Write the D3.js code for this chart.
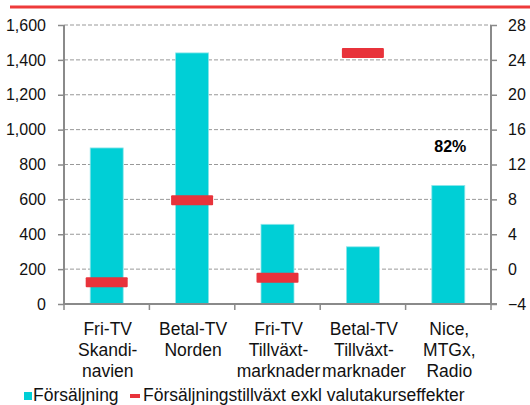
<!DOCTYPE html>
<html>
<head>
<meta charset="utf-8">
<script src="https://cdn.jsdelivr.net/npm/d3@7"></script>
<style>
  body { margin: 0; background: #fff; }
  svg { display: block; font-family: "Liberation Sans", Arial, sans-serif; }
</style>
</head>
<body>
<svg id="chart" width="530" height="405"></svg>
<script>
// chart data
var categories = ['Fri-TV Skandinavien', 'Betal-TV Norden', 'Fri-TV Tillväxtmarknader', 'Betal-TV Tillväxtmarknader', 'Nice, MTGx, Radio'];
var labelLines = [
    ['Fri-TV', 'Skandi-', 'navien'],
    ['Betal-TV', 'Norden'],
    ['Fri-TV', 'Tillväxt-', 'marknader'],
    ['Betal-TV', 'Tillväxt-', 'marknader'],
    ['Nice,', 'MTGx,', 'Radio']
];
var sales = [895, 1440, 457, 328, 680];
var growth = [-1.5, 7.9, -1.0, 24.8, null];
var noteText = '82%';      // growth for Nice, MTGx, Radio (off scale)
var noteValue = 14;        // where the note sits on the right axis
var leftTicks = [0, 200, 400, 600, 800, 1000, 1200, 1400, 1600];
var rightTicks = [-4, 0, 4, 8, 12, 16, 20, 24, 28];
var legendNames = ['Försäljning', 'Försäljningstillväxt exkl valutakurseffekter'];

var cyan = '#00cfd6';
var red = '#e8333b';
var grey = '#8a8a8a';

var svg = d3.select('#chart');

var plotL = 64, plotR = 491, plotT = 25, plotB = 304;

var x = d3.scaleBand()
    .domain(categories)
    .range([plotL, plotR])
    .paddingInner(0)
    .paddingOuter(0);

var yL = d3.scaleLinear().domain([0, 1600]).range([plotB, plotT]);
var yR = d3.scaleLinear().domain([-4, 28]).range([plotB, plotT]);

// red line at the top
svg.append('line')
    .attr('x1', 10).attr('x2', 530)
    .attr('y1', 7).attr('y2', 7)
    .attr('stroke', '#ee3a3a')
    .attr('stroke-width', 3);

// gridlines
svg.append('g')
    .selectAll('line')
    .data(leftTicks.filter(function(d) { return d > 0; }))
    .enter()
    .append('line')
    .attr('x1', plotL).attr('x2', plotR)
    .attr('y1', function(d) { return yL(d); })
    .attr('y2', function(d) { return yL(d); })
    .attr('stroke', '#999')
    .attr('stroke-width', 1)
    .attr('stroke-dasharray', '4,2');

// bars
var barW = 33;
svg.append('g')
    .selectAll('rect')
    .data(sales)
    .enter()
    .append('rect')
    .attr('x', function(d, i) { return x(categories[i]) + x.bandwidth() / 2 - barW / 2; })
    .attr('y', function(d) { return yL(d); })
    .attr('width', barW)
    .attr('height', function(d) { return yL(0) - yL(d); })
    .attr('fill', cyan)
    .attr('stroke', '#8fe6ea')
    .attr('stroke-width', 0.8);

// growth markers
var mW = 42, mH = 10;
svg.append('g')
    .selectAll('rect')
    .data(growth.map(function(d, i) { return { v: d, c: categories[i] }; })
        .filter(function(d) { return d.v !== null; }))
    .enter()
    .append('rect')
    .attr('x', function(d) { return x(d.c) + x.bandwidth() / 2 - mW / 2; })
    .attr('y', function(d) { return yR(d.v) - mH / 2; })
    .attr('width', mW)
    .attr('height', mH)
    .attr('rx', 1)
    .attr('fill', red);

// note for last category
svg.append('text')
    .attr('x', x(categories[4]) + x.bandwidth() / 2 + 2)
    .attr('y', yR(noteValue) + 5)
    .attr('text-anchor', 'middle')
    .attr('font-size', '16px')
    .attr('font-weight', 'bold')
    .attr('fill', '#000')
    .text(noteText);

// axes
var axisL = svg.append('g')
    .attr('transform', 'translate(' + plotL + ',0)')
    .call(d3.axisLeft(yL).tickValues(leftTicks).tickSize(6).tickPadding(12)
        .tickFormat(d3.format(',')));

var axisR = svg.append('g')
    .attr('transform', 'translate(' + plotR + ',0)')
    .call(d3.axisRight(yR).tickValues(rightTicks).tickSize(6).tickPadding(11));

var axisB = svg.append('g')
    .attr('transform', 'translate(0,' + plotB + ')')
    .call(d3.axisBottom(x).tickSize(0).tickFormat(''));

[axisL, axisR, axisB].forEach(function(a) {
    a.select('.domain').attr('stroke', grey).attr('stroke-width', 2);
    a.selectAll('.tick line').attr('stroke', grey).attr('stroke-width', 1.5);
    a.selectAll('.tick text').attr('fill', '#111').attr('font-size', '16px')
        .attr('font-family', '"Liberation Sans", Arial, sans-serif');
});
axisL.select('.domain').attr('d', 'M0,' + plotT + 'V' + plotB);
axisR.select('.domain').attr('d', 'M0,' + plotT + 'V' + plotB);
axisB.select('.domain').attr('d', 'M' + plotL + ',0H' + (plotR + 6));

// category boundary ticks on the bottom axis
var bounds = categories.map(function(c) { return x(c); }).concat([plotR]);
svg.append('g')
    .selectAll('line')
    .data(bounds)
    .enter()
    .append('line')
    .attr('x1', function(d) { return d; })
    .attr('x2', function(d) { return d; })
    .attr('y1', plotB)
    .attr('y2', plotB + 6)
    .attr('stroke', grey)
    .attr('stroke-width', 1.5);

// category labels
var lab = svg.append('g')
    .selectAll('text')
    .data(labelLines)
    .enter()
    .append('text')
    .attr('text-anchor', 'middle')
    .attr('font-size', '17.5px')
    .attr('fill', '#111')
    .attr('transform', function(d, i) {
        return 'translate(' + (x(categories[i]) + x.bandwidth() / 2 + 1) + ',335)';
    });
lab.selectAll('tspan')
    .data(function(d) { return d; })
    .enter()
    .append('tspan')
    .attr('x', 0)
    .attr('y', function(d, i) { return i * 21; })
    .text(function(d) { return d; });

// legend
var leg = svg.append('g');
leg.append('rect')
    .attr('x', 24).attr('y', 392).attr('width', 8).attr('height', 8)
    .attr('fill', cyan);
leg.append('text')
    .attr('x', 33).attr('y', 401)
    .attr('font-size', '17.5px').attr('fill', '#111')
    .text(legendNames[0]);
leg.append('rect')
    .attr('x', 130).attr('y', 394).attr('width', 10).attr('height', 4)
    .attr('fill', red);
leg.append('text')
    .attr('x', 143).attr('y', 401)
    .attr('font-size', '17.5px').attr('fill', '#111')
    .text(legendNames[1]);
</script>
</body>
</html>
